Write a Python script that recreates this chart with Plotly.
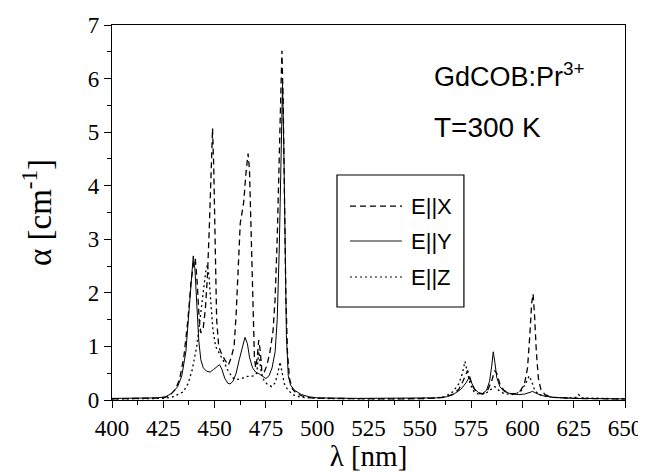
import plotly.graph_objects as go

# ---- data ----
wl_x = [400, 410, 420, 425, 428, 431, 433, 435, 437, 438.5, 440, 440.6, 441.5, 442.5, 443.3, 444.5, 445.5, 446.5, 447.5, 448.3, 449, 449.6, 450.3, 451, 452, 453.5, 455, 456.7, 458, 459.5, 460.5, 461.5, 462.5, 463.3, 464.2, 465.2, 466.3, 467, 467.8, 468.6, 469.4, 470, 470.8, 471.5, 472.3, 473, 474, 475.5, 477, 478.5, 479.5, 480.5, 481.5, 482.2, 482.8, 483.4, 484, 484.7, 485.5, 486.5, 488, 490, 493, 497, 505, 520, 540, 555, 562, 566, 569, 571, 572.5, 573.3, 574.2, 575.5, 577, 579, 581, 583, 585, 586.5, 587.5, 589, 591, 594, 597, 599, 601, 602.5, 603.6, 604.5, 605.2, 605.9, 606.8, 607.8, 609, 611, 615, 625, 650]
alpha_x = [0.02, 0.03, 0.03, 0.04, 0.08, 0.2, 0.4, 0.8, 1.5, 2.2, 2.62, 2.64, 2.2, 1.5, 1.25, 1.35, 1.7, 2.3, 3.3, 4.4, 5.07, 4.3, 2.6, 1.5, 1.0, 0.85, 0.75, 0.65, 0.78, 1.0, 1.6, 2.5, 3.3, 3.48, 3.7, 4.2, 4.6, 4.3, 3.2, 1.8, 0.8, 0.6, 0.8, 1.12, 0.9, 0.55, 0.5, 0.65, 0.9, 1.3, 1.9, 3.0, 4.5, 5.8, 6.52, 5.6, 3.8, 2.0, 0.9, 0.4, 0.2, 0.12, 0.07, 0.04, 0.03, 0.02, 0.02, 0.03, 0.05, 0.1, 0.2, 0.35, 0.5, 0.55, 0.45, 0.28, 0.18, 0.12, 0.12, 0.18, 0.35, 0.55, 0.5, 0.3, 0.18, 0.12, 0.12, 0.17, 0.3, 0.6, 1.2, 1.8, 1.98, 1.6, 0.9, 0.4, 0.2, 0.1, 0.05, 0.03, 0.02]

wl_y = [400, 415, 422, 426, 429, 432, 434, 436, 437.5, 438.7, 439.6, 440.4, 441.3, 442.3, 443.3, 444.5, 446, 447.8, 449.5, 451, 452.4, 453.5, 455, 456.5, 457.5, 459, 460.5, 462, 463.5, 464.8, 466, 467, 468.5, 470, 472, 473.7, 475, 476.5, 478, 479.5, 480.5, 481.5, 482.3, 483.1, 483.7, 484.3, 485, 485.9, 487, 489, 492.4, 496, 500, 520, 545, 558, 563, 567, 570, 572.5, 574, 575, 576.5, 578.5, 580.5, 582.5, 584, 585, 585.8, 586.6, 587.5, 589, 591, 594, 598, 601, 603, 605, 607, 610, 615, 625, 650]
alpha_y = [0.03, 0.03, 0.04, 0.06, 0.12, 0.25, 0.45, 0.9, 1.6, 2.3, 2.69, 2.45, 1.8, 1.1, 0.75, 0.6, 0.54, 0.52, 0.57, 0.62, 0.66, 0.58, 0.4, 0.31, 0.3, 0.35, 0.5, 0.75, 1.0, 1.17, 1.05, 0.8, 0.6, 0.52, 0.48, 0.43, 0.4, 0.45, 0.6, 0.9, 1.5, 2.8, 4.5, 5.9, 4.8, 2.8, 1.2, 0.45, 0.28, 0.18, 0.1, 0.06, 0.04, 0.03, 0.03, 0.04, 0.06, 0.12, 0.2, 0.32, 0.42, 0.35, 0.22, 0.14, 0.12, 0.18, 0.35, 0.62, 0.9, 0.7, 0.42, 0.25, 0.16, 0.12, 0.1, 0.11, 0.13, 0.16, 0.12, 0.08, 0.05, 0.03, 0.02]

wl_z = [400, 415, 425, 429, 432, 434.7, 437, 439, 441.3, 443, 444.5, 445.7, 446.5, 447.3, 448.2, 449.2, 450.5, 452, 453.5, 454.7, 456.5, 458.7, 460.5, 463, 466, 469, 470.5, 471.6, 472.4, 473.5, 475.5, 477.8, 479.5, 480.8, 481.9, 482.8, 484, 485.5, 488, 492, 500, 530, 556, 562, 566, 569, 570.8, 572, 573, 574.5, 576.5, 579, 582, 584.5, 586.5, 588.5, 591, 595, 599, 601.5, 603.3, 604.5, 606, 608, 612, 620, 626.5, 627.5, 628.5, 640, 650]
alpha_z = [0.02, 0.03, 0.03, 0.05, 0.1, 0.15, 0.3, 0.55, 1.0, 1.5, 2.0, 2.4, 2.52, 2.3, 1.8, 1.3, 1.0, 0.9, 0.8, 0.7, 0.55, 0.42, 0.38, 0.4, 0.44, 0.45, 0.5, 0.9, 0.6, 0.4, 0.3, 0.25, 0.32, 0.5, 0.71, 0.5, 0.3, 0.2, 0.1, 0.05, 0.03, 0.02, 0.03, 0.06, 0.15, 0.3, 0.5, 0.72, 0.55, 0.3, 0.15, 0.1, 0.12, 0.2, 0.25, 0.18, 0.12, 0.1, 0.15, 0.3, 0.45, 0.35, 0.18, 0.1, 0.06, 0.04, 0.05, 0.1, 0.04, 0.03, 0.02]

x_ticks = [400, 425, 450, 475, 500, 525, 550, 575, 600, 625, 650]
y_ticks = [0, 1, 2, 3, 4, 5, 6, 7]
legend_labels = ["E||X", "E||Y", "E||Z"]
dash_styles = ["6px,4px", "solid", "2px,3px"]

fig = go.Figure()
for wl, a, name, dash in zip([wl_x, wl_y, wl_z], [alpha_x, alpha_y, alpha_z], legend_labels, dash_styles):
    fig.add_trace(go.Scatter(x=wl, y=a, mode="lines", name=name,
                             line=dict(color="black", width=1.3 if dash != "solid" else 1.0, dash=dash),
                             showlegend=False))

serif = "Liberation Serif, Times New Roman, serif"
sans = "Liberation Sans, Arial, sans-serif"

# the page body has an 8px margin, so the figure is 8px smaller and left/top margins are offset
fig.update_layout(
    width=638, height=464,
    margin=dict(l=104, r=21, t=17, b=72),
    paper_bgcolor="white", plot_bgcolor="white",
    xaxis=dict(range=[400, 650], tickvals=x_ticks, ticks="outside", ticklen=7, tickwidth=1,
               tickcolor="black", showline=True, linecolor="black", linewidth=1.3, mirror=True,
               showgrid=False, zeroline=False, automargin=False,
               minor=dict(dtick=12.5, tick0=400, ticks="outside", ticklen=4, tickcolor="black", showgrid=False),
               tickfont=dict(family=serif, size=23, color="black"),
               title=dict(text="λ [nm]", font=dict(family=serif, size=29, color="black"), standoff=9)),
    yaxis=dict(range=[0, 7], tickvals=y_ticks, ticks="outside", ticklen=7, tickwidth=1,
               tickcolor="black", showline=True, linecolor="black", linewidth=1.3, mirror=True,
               showgrid=False, zeroline=False, automargin=False,
               minor=dict(dtick=0.5, tick0=0, ticks="outside", ticklen=4, tickcolor="black", showgrid=False),
               tickfont=dict(family=serif, size=23, color="black"),
               title=dict(text="α [cm<sup>-1</sup>]", font=dict(family=serif, size=33, color="black"), standoff=26)),
)

# text labels
fig.add_annotation(text="GdCOB:Pr<sup>3+</sup>", xref="paper", yref="paper", x=0.624, y=0.867,
                   xanchor="left", yanchor="middle", showarrow=False,
                   font=dict(family=sans, size=27, color="black"))
fig.add_annotation(text="T=300 K", xref="paper", yref="paper", x=0.624, y=0.728,
                   xanchor="left", yanchor="middle", showarrow=False,
                   font=dict(family=sans, size=28, color="black"))

# custom legend box
fig.add_shape(type="rect", xref="paper", yref="paper", x0=0.4386, x1=0.686, y0=0.248, y1=0.6,
              line=dict(color="black", width=1.2), fillcolor="white", layer="above")
rows = [0.517, 0.424, 0.328]
for lab, dash, ry in zip(legend_labels, dash_styles, rows):
    fig.add_shape(type="line", xref="paper", yref="paper", x0=0.4639, x1=0.5653, y0=ry, y1=ry,
                  line=dict(color="black", width=1.2 if dash != "solid" else 0.9, dash=dash), layer="above")
    fig.add_annotation(text=lab, xref="paper", yref="paper", x=0.579, y=ry, xanchor="left",
                       yanchor="middle", showarrow=False, font=dict(family=sans, size=22, color="black"))

fig.write_html("out.html")
